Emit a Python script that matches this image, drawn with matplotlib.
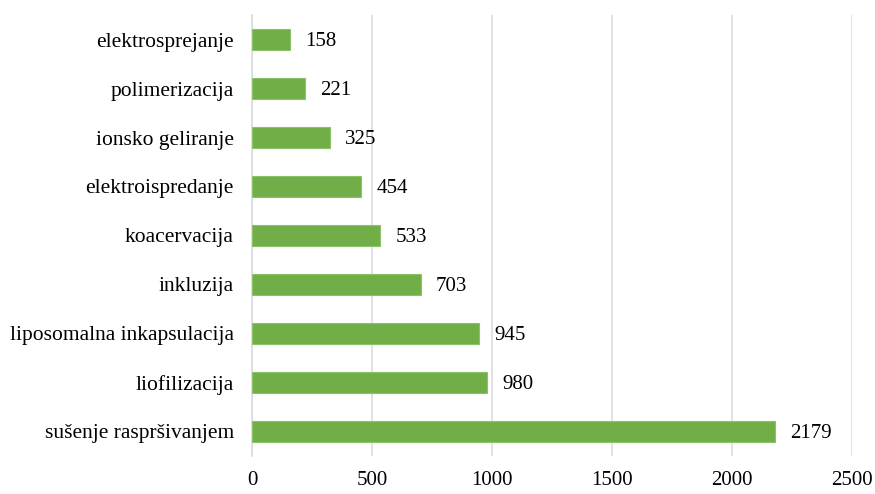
import matplotlib
matplotlib.use("Agg")
import matplotlib.pyplot as plt

# data (top to bottom as shown)
methods = ["elektrosprejanje", "polimerizacija", "ionsko geliranje",
           "elektroispredanje", "koacervacija", "inkluzija",
           "liposomalna inkapsulacija", "liofilizacija",
           "sušenje raspršivanjem"]
counts = [158, 221, 325, 454, 533, 703, 945, 980, 2179]
xticks = [0, 500, 1000, 1500, 2000, 2500]

plt.rcParams['font.family'] = ['Liberation Serif', 'DejaVu Serif']

fig = plt.figure(figsize=(8.75, 4.94), dpi=100)
ax = fig.add_axes([0.288, 0.077, 0.9737 - 0.288, 0.9696 - 0.077])

ypos = list(range(len(methods)))
ax.barh(ypos, counts, height=0.41, color="#72AE48",
        edgecolor="#8CC168", linewidth=0.8, zorder=3)
ax.set_ylim(len(methods) - 0.5, -0.5)
ax.set_xlim(0, 2500)
ax.set_xticks(xticks)
ax.set_yticks(ypos)
ax.set_yticklabels(methods)

for y, v in zip(ypos, counts):
    ax.annotate(str(v), (v, y), xytext=(11, -1.5), textcoords="offset points",
                ha="left", va="center", fontsize=15, color="black")

ax.grid(axis="x", color="#D9DCE3", linewidth=1.2, zorder=0)
ax.tick_params(axis="both", length=0, labelsize=15)
ax.tick_params(axis="y", pad=13, labelsize=15.5)
ax.tick_params(axis="x", pad=11)
for s in ["top", "right", "bottom"]:
    ax.spines[s].set_visible(False)
ax.spines["left"].set_color("#D9DCE3")
ax.spines["left"].set_linewidth(1.2)

fig.savefig("out.png", dpi=100)
